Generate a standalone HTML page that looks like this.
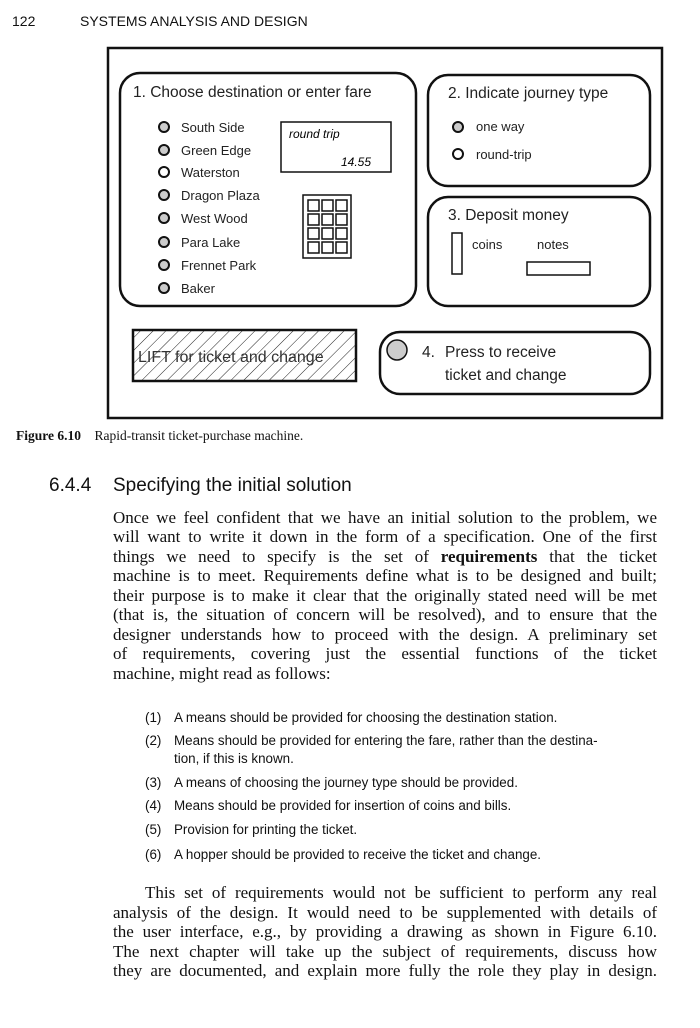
<!DOCTYPE html>
<html><head><meta charset="utf-8"><style>
body{margin:0;width:700px;height:1028px;background:#fff;position:relative;overflow:hidden;color:#111}
.a{position:absolute;white-space:nowrap}
.s{font-family:"Liberation Sans",sans-serif}
.r{font-family:"Liberation Serif",serif}
.jl{position:absolute;left:113px;width:544px;font-family:"Liberation Serif",serif;font-size:17px;text-align:justify;text-align-last:justify;white-space:nowrap;line-height:19px}
.li{position:absolute;font-family:"Liberation Sans",sans-serif;font-size:13.4px;white-space:nowrap}
</style></head><body>
<div class="a s" style="left:12px;top:13px;font-size:14px">122</div>
<div class="a s" style="left:80px;top:13px;font-size:14px">SYSTEMS ANALYSIS AND DESIGN</div>

<svg class="a" style="left:0;top:0" width="700" height="430" font-family="Liberation Sans, sans-serif">
<defs><pattern id="h" width="9" height="9" patternUnits="userSpaceOnUse" patternTransform="rotate(45)"><line x1="0" y1="0" x2="0" y2="9" stroke="#222" stroke-width="1"/></pattern></defs>
<rect x="108" y="48" width="554" height="370" fill="none" stroke="#111" stroke-width="2.5"/>
<rect x="120" y="73" width="296" height="233" rx="20" fill="none" stroke="#111" stroke-width="2.5"/>
<rect x="428" y="75" width="222" height="111" rx="20" fill="none" stroke="#111" stroke-width="2.5"/>
<rect x="428" y="197" width="222" height="109" rx="20" fill="none" stroke="#111" stroke-width="2.5"/>
<rect x="380" y="332" width="270" height="62" rx="20" fill="none" stroke="#111" stroke-width="2.5"/>
<rect x="133" y="330" width="223" height="51" fill="url(#h)" stroke="#111" stroke-width="2.5"/>
<text x="138" y="362" font-size="16" fill="#333">LIFT for ticket and change</text>
<g font-size="15.5" fill="#222" xml:space="preserve">
<text x="133" y="97">1.  Choose destination or enter fare</text>
<text x="448" y="98">2.  Indicate journey type</text>
<text x="448" y="220">3.  Deposit money</text>
</g>
<g font-size="13" fill="#222">
<g stroke="#111" stroke-width="2">
<circle cx="164" cy="127" r="5" fill="#ccc"/><circle cx="164" cy="150" r="5" fill="#ccc"/>
<circle cx="164" cy="172" r="5" fill="#fff"/><circle cx="164" cy="195" r="5" fill="#ccc"/>
<circle cx="164" cy="218" r="5" fill="#ccc"/><circle cx="164" cy="242" r="5" fill="#ccc"/>
<circle cx="164" cy="265" r="5" fill="#ccc"/><circle cx="164" cy="288" r="5" fill="#ccc"/>
<circle cx="458" cy="127" r="5" fill="#ccc"/><circle cx="458" cy="154" r="5" fill="#fff"/>
<circle cx="397" cy="350" r="10" fill="#ccc" stroke-width="1.5"/>
</g>
<text x="181" y="132">South Side</text><text x="181" y="155">Green Edge</text>
<text x="181" y="177">Waterston</text><text x="181" y="200">Dragon Plaza</text>
<text x="181" y="223">West Wood</text><text x="181" y="247">Para Lake</text>
<text x="181" y="270">Frennet Park</text><text x="181" y="293">Baker</text>
<text x="476" y="131">one way</text><text x="476" y="159">round-trip</text>
<text x="472" y="249">coins</text><text x="537" y="249">notes</text>
</g>
<rect x="281" y="122" width="110" height="50" fill="none" stroke="#111" stroke-width="1.5"/>
<text x="289" y="138" font-size="12" font-style="italic">round trip</text>
<text x="341" y="166" font-size="12" font-style="italic">14.55</text>
<rect x="303" y="195" width="48" height="63" fill="none" stroke="#111" stroke-width="1.5"/>
<g fill="none" stroke="#111" stroke-width="1.5">
<rect x="308" y="200" width="11" height="11"/><rect x="322" y="200" width="11" height="11"/><rect x="336" y="200" width="11" height="11"/>
<rect x="308" y="214" width="11" height="11"/><rect x="322" y="214" width="11" height="11"/><rect x="336" y="214" width="11" height="11"/>
<rect x="308" y="228" width="11" height="11"/><rect x="322" y="228" width="11" height="11"/><rect x="336" y="228" width="11" height="11"/>
<rect x="308" y="242" width="11" height="11"/><rect x="322" y="242" width="11" height="11"/><rect x="336" y="242" width="11" height="11"/>
<rect x="452" y="233" width="10" height="41"/>
<rect x="527" y="262" width="63" height="13"/>
</g>
<g font-size="15.5" fill="#222">
<text x="422" y="357">4.</text>
<text x="445" y="357">Press to receive</text>
<text x="445" y="380">ticket and change</text>
</g>
</svg>

<div class="a r" style="left:16px;top:428px;font-size:13.5px"><b>Figure 6.10</b>&nbsp;&nbsp;&nbsp;&nbsp;Rapid-transit ticket-purchase machine.</div>
<div class="a s" style="left:49px;top:475px;font-size:19px">6.4.4</div>
<div class="a s" style="left:113px;top:475px;font-size:19px">Specifying the initial solution</div>

<div class="jl" style="top:508px">Once we feel confident that we have an initial solution to the problem, we</div>
<div class="jl" style="top:527px">will want to write it down in the form of a specification. One of the first</div>
<div class="jl" style="top:547px">things we need to specify is the set of <b>requirements</b> that the ticket</div>
<div class="jl" style="top:566px">machine is to meet. Requirements define what is to be designed and built;</div>
<div class="jl" style="top:586px">their purpose is to make it clear that the originally stated need will be met</div>
<div class="jl" style="top:605px">(that is, the situation of concern will be resolved), and to ensure that the</div>
<div class="jl" style="top:625px">designer understands how to proceed with the design. A preliminary set</div>
<div class="jl" style="top:644px">of requirements, covering just the essential functions of the ticket</div>
<div class="jl" style="top:664px;text-align-last:left">machine, might read as follows:</div>

<div class="li" style="left:145px;top:710px">(1)</div><div class="li" style="left:174px;top:710px">A means should be provided for choosing the destination station.</div>
<div class="li" style="left:145px;top:733px">(2)</div><div class="li" style="left:174px;top:733px">Means should be provided for entering the fare, rather than the destina-</div>
<div class="li" style="left:174px;top:751px">tion, if this is known.</div>
<div class="li" style="left:145px;top:775px">(3)</div><div class="li" style="left:174px;top:775px">A means of choosing the journey type should be provided.</div>
<div class="li" style="left:145px;top:798px">(4)</div><div class="li" style="left:174px;top:798px">Means should be provided for insertion of coins and bills.</div>
<div class="li" style="left:145px;top:822px">(5)</div><div class="li" style="left:174px;top:822px">Provision for printing the ticket.</div>
<div class="li" style="left:145px;top:847px">(6)</div><div class="li" style="left:174px;top:847px">A hopper should be provided to receive the ticket and change.</div>

<div class="jl" style="top:883px;left:145px;width:512px">This set of requirements would not be sufficient to perform any real</div>
<div class="jl" style="top:903px">analysis of the design. It would need to be supplemented with details of</div>
<div class="jl" style="top:922px">the user interface, e.g., by providing a drawing as shown in Figure 6.10.</div>
<div class="jl" style="top:942px">The next chapter will take up the subject of requirements, discuss how</div>
<div class="jl" style="top:961px">they are documented, and explain more fully the role they play in design.</div>
</body></html>
